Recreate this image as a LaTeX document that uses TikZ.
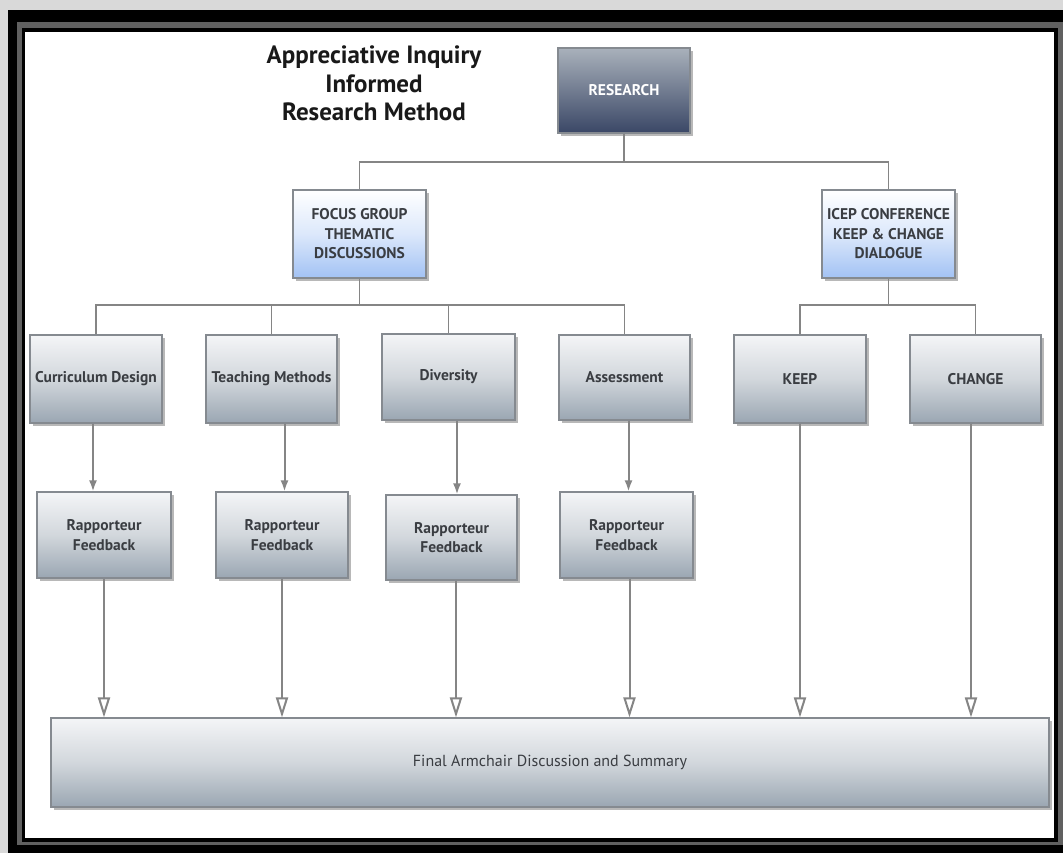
\documentclass[tikz,border=0pt]{standalone}
\usepackage{fontspec}
\setmainfont{PT Sans}
\usetikzlibrary{shadows,arrows.meta,calc}
\definecolor{gtop}{HTML}{F4F5F7}
\definecolor{gmid}{HTML}{D2D7DC}
\definecolor{gbot}{HTML}{9AA6B2}
\definecolor{rtop}{HTML}{A9B1BB}
\definecolor{rbot}{HTML}{3A4766}
\definecolor{btop}{HTML}{FFFFFF}
\definecolor{bmid}{HTML}{DCE8FB}
\definecolor{bbot}{HTML}{A2C2F4}
\definecolor{bordc}{HTML}{858A90}
\definecolor{linec}{HTML}{858585}
\definecolor{textc}{HTML}{3A3D42}
\newcommand{\mytitlefont}{\fontsize{25}{28.5}\selectfont\bfseries}
\newcommand{\myboxfont}{\fontsize{15.5}{19.5}\selectfont\bfseries}
\newcommand{\myfinalfont}{\fontsize{16}{18}\selectfont}
\begin{document}
\begin{tikzpicture}[x=1pt,y=-1pt,
  box/.style={draw=bordc, line width=1.2, rectangle, inner sep=1, align=center,
    font=\myboxfont, text=textc,
    drop shadow={shadow xshift=3pt,shadow yshift=-3pt,fill=black,opacity=0.28}},
  gbox/.style={box, top color=gtop, bottom color=gbot, middle color=gmid},
  bbox/.style={box, top color=btop, bottom color=bbot, middle color=bmid},
  rbox/.style={box, top color=rtop, bottom color=rbot, text=white},
  tree/.style={draw=linec, line width=1.6},
  farrow/.style={draw=linec, line width=2, -{Latex[length=11pt,width=8pt]}},
  oarrow/.style={draw=linec, line width=2, -{Triangle[open,length=20pt,width=12pt,fill=white]}}
]
\useasboundingbox (0,0) rectangle (1063,853);
% frame
\fill[gray!30] (0,0) rectangle (1063,853);
\fill[black] (8,10) rectangle (1063,853);
\fill[gray!75!black] (17,22) rectangle (1063,845);
\fill[black] (22,28) rectangle (1058,842);
\fill[white] (25,32) rectangle (1054,838);

% title
\node[font=\mytitlefont, align=center, text=black!90] (title) at (374,83.5)
  {Appreciative Inquiry\\Informed\\Research Method};

% nodes
\node[rbox, minimum width=132, minimum height=85] (research) at (624,90.5) {RESEARCH};
\node[bbox, minimum width=133, minimum height=88] (focus) at (359.5,234) {FOCUS GROUP\\THEMATIC\\DISCUSSIONS};
\node[bbox, minimum width=133, minimum height=88] (icep) at (888.5,234) {ICEP CONFERENCE\\KEEP \& CHANGE\\DIALOGUE};

\node[gbox, minimum width=132, minimum height=88] (curr) at (96,379) {Curriculum Design};
\node[gbox, minimum width=131, minimum height=88] (teach) at (271.5,379) {Teaching Methods};
\node[gbox, minimum width=133, minimum height=86] (div) at (448.5,377) {Diversity};
\node[gbox, minimum width=131, minimum height=85] (assess) at (624.5,377.5) {Assessment};
\node[gbox, minimum width=132, minimum height=88] (keep) at (800,379) {KEEP};
\node[gbox, minimum width=131, minimum height=88] (change) at (975.5,379) {CHANGE};

\node[gbox, minimum width=134, minimum height=86] (rapp1) at (104,535) {Rapporteur\\Feedback};
\node[gbox, minimum width=132, minimum height=86] (rapp2) at (282,535) {Rapporteur\\Feedback};
\node[gbox, minimum width=131, minimum height=85] (rapp3) at (451.5,537.5) {Rapporteur\\Feedback};
\node[gbox, minimum width=133, minimum height=86] (rapp4) at (626.5,535) {Rapporteur\\Feedback};

\node[gbox, font=\myfinalfont, minimum width=998, minimum height=89] (final) at (550,762.5)
  {Final Armchair Discussion and Summary};

% tree connectors
\coordinate (bus1) at (0,162);
\coordinate (bus2) at (0,305);
\draw[tree] (research.south) -- (research.south |- bus1);
\draw[tree] (focus.north) -- (focus.north |- bus1) -- (icep.north |- bus1) -- (icep.north);
\draw[tree] (focus.south) -- (focus.south |- bus2);
\draw[tree] (curr.north) -- (curr.north |- bus2) -- (assess.north |- bus2) -- (assess.north);
\draw[tree] (teach.north) -- (teach.north |- bus2);
\draw[tree] (div.north) -- (div.north |- bus2);
\draw[tree] (icep.south) -- (icep.south |- bus2);
\draw[tree] (keep.north) -- (keep.north |- bus2) -- (change.north |- bus2) -- (change.north);

% arrows to rapporteur boxes
\draw[farrow] ([xshift=-3]curr.south) -- ([xshift=-3]curr.south |- rapp1.north);
\draw[farrow] ([xshift=13]teach.south) -- ([xshift=13]teach.south |- rapp2.north);
\draw[farrow] ([xshift=8.5]div.south) -- ([xshift=8.5]div.south |- rapp3.north);
\draw[farrow] ([xshift=4]assess.south) -- ([xshift=4]assess.south |- rapp4.north);

% arrows to final box
\draw[oarrow] (rapp1.south) -- (rapp1.south |- final.north);
\draw[oarrow] (rapp2.south) -- (rapp2.south |- final.north);
\draw[oarrow] ([xshift=4.5]rapp3.south) -- ([xshift=4.5]rapp3.south |- final.north);
\draw[oarrow] ([xshift=3]rapp4.south) -- ([xshift=3]rapp4.south |- final.north);
\draw[oarrow] (keep.south) -- (keep.south |- final.north);
\draw[oarrow] ([xshift=-4.5]change.south) -- ([xshift=-4.5]change.south |- final.north);
\end{tikzpicture}
\end{document}
